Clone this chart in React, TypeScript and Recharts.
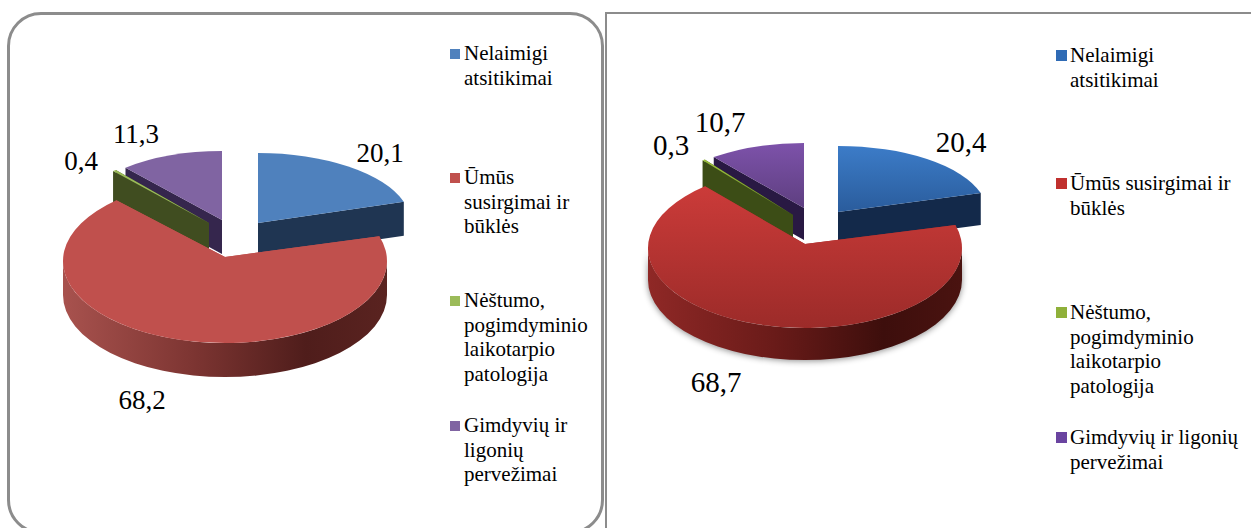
import React from "react"
import { Legend, Pie, PieChart } from "recharts"

const categories = [
  "Nelaimigi atsitikimai",
  "Ūmūs susirgimai ir būklės",
  "Nėštumo, pogimdyminio laikotarpio patologija",
  "Gimdyvių ir ligonių pervežimai",
]
const leftValues = [20.1, 68.2, 0.4, 11.3]
const rightValues = [20.4, 68.7, 0.3, 10.7]
const leftLegendLines = [
  ["Nelaimigi", "atsitikimai"],
  ["Ūmūs", "susirgimai ir", "būklės"],
  ["Nėštumo,", "pogimdyminio", "laikotarpio", "patologija"],
  ["Gimdyvių ir", "ligonių", "pervežimai"],
]
const rightLegendLines = [
  ["Nelaimigi", "atsitikimai"],
  ["Ūmūs susirgimai ir", "būklės"],
  ["Nėštumo,", "pogimdyminio", "laikotarpio", "patologija"],
  ["Gimdyvių ir ligonių", "pervežimai"],
]

const FONT = '"Liberation Serif", serif'
const DEG = Math.PI / 180
// back slices first, red last: it sits in front of the others
const drawOrder = [0, 3, 2, 1]

const leftPanel = {
  id: "l",
  left: 0,
  width: 604,
  values: leftValues,
  legendLines: leftLegendLines,
  cx: 225,
  cy: 261,
  radius: 162,
  depth: 34,
  // pull-out of each slice and its ellipse; ay lifts the apex for the perspective look
  slices: [
    { dx: 33, dy: -38, rx: 153, ry: 70, ay: 0 },
    { dx: 0, dy: 0, rx: 162, ry: 82, ay: -4 },
    { dx: -16, dy: -38, rx: 143, ry: 70, ay: 0 },
    { dx: -3, dy: -41, rx: 148, ry: 69, ay: 0 },
  ],
  tops: [
    ["#4f81bd", "#4f81bd"],
    ["#c0504d", "#c0504d"],
    ["#9bbb59", "#9bbb59"],
    ["#8064a2", "#8064a2"],
  ],
  walls: ["#1f3552", "#c0504d", "#404d20", "#35264d"],
  redWall: ["#a8524e", "#7d3532", "#4f1d1b", "#5a2320"],
  shadow: "none",
  labelPos: [
    [380, 153],
    [142, 400],
    [81, 161],
    [136, 134],
  ],
  labelSize: 27,
  swatchX: 450,
  swatchSize: 10,
  swatchDy: 8,
  textX: 464,
  legendTops: [41, 165, 288, 413],
  legendFill: ["#4f81bd", "#c0504d", "#9bbb59", "#8064a2"],
}

const rightPanel = {
  id: "r",
  left: 605,
  width: 646,
  values: rightValues,
  legendLines: rightLegendLines,
  cx: 200,
  cy: 248,
  radius: 157,
  depth: 32,
  slices: [
    { dx: 33, dy: -36, rx: 149, ry: 66, ay: 0 },
    { dx: 0, dy: 0, rx: 157, ry: 80, ay: -4 },
    { dx: -12, dy: -33, rx: 142, ry: 71, ay: 0 },
    { dx: -1, dy: -40, rx: 145, ry: 65, ay: 0 },
  ],
  tops: [
    ["#3c7cc8", "#2a5c9c"],
    ["#cb3b39", "#9c2b29"],
    ["#9dc23e", "#6f8c2a"],
    ["#7d52aa", "#5e3f80"],
  ],
  walls: ["#13294a", "#a02c2a", "#3c4d16", "#291943"],
  redWall: ["#8f2826", "#6a1b19", "#3d0e0c", "#4a1310"],
  shadow: "drop-shadow(0 1px 3px rgba(0,0,0,0.45))",
  labelPos: [
    [356, 142],
    [111, 382],
    [66, 145],
    [115, 122],
  ],
  labelSize: 29,
  swatchX: 451,
  swatchSize: 11,
  swatchDy: 7,
  textX: 465,
  legendTops: [43, 171, 300, 425],
  legendFill: ["#2f6bb5", "#c0302e", "#8fb03a", "#6a44a0"],
}

type Panel = typeof leftPanel

function SliceShape({ panel, sliceIndex, sector }: { panel: Panel; sliceIndex: number; sector: any }) {
  const name = sector.payload?.name ?? sector.name
  if (name !== categories[sliceIndex]) return <g />

  const { dx, dy, rx, ry, ay } = panel.slices[sliceIndex]
  const ox = sector.cx + dx
  const oy = sector.cy + dy
  const apexY = oy + ay
  const d = panel.depth
  const at = (deg: number): [number, number] => [
    ox + rx * Math.cos(deg * DEG),
    oy - ry * Math.sin(deg * DEG),
  ]
  const a1 = sector.startAngle
  const a2 = sector.endAngle
  const [sx, sy] = at(a1)
  const [ex, ey] = at(a2)
  const large = Math.abs(a1 - a2) > 180 ? 1 : 0

  const top = `M${ox},${apexY}L${sx},${sy}A${rx},${ry} 0 ${large} 1 ${ex},${ey}Z`
  const edgeWall = (x: number, y: number) =>
    `M${ox},${apexY}L${x},${y}L${x},${y + d}L${ox},${apexY + d}Z`

  // the rim only shows on the front half of the ellipse
  const rimFrom = Math.min(a1, 0)
  const rimTo = Math.max(a2, -180)
  let rim = ""
  if (rimFrom > rimTo) {
    const [p1x, p1y] = at(rimFrom)
    const [p2x, p2y] = at(rimTo)
    rim = `M${p1x},${p1y}A${rx},${ry} 0 0 1 ${p2x},${p2y}L${p2x},${p2y + d}A${rx},${ry} 0 0 0 ${p1x},${p1y + d}Z`
  }

  const wall = panel.walls[sliceIndex]
  return (
    <g>
      <path d={edgeWall(sx, sy)} fill={wall} />
      <path d={edgeWall(ex, ey)} fill={wall} />
      {rim && (
        <path
          d={rim}
          fill={`url(#${panel.id}-rim)`}
          style={{ filter: panel.shadow }}
        />
      )}
      <path d={top} fill={`url(#${panel.id}-top-${sliceIndex})`} />
    </g>
  )
}

function renderLabel(panel: Panel) {
  return (props: any) => {
    const i = categories.indexOf(props.payload?.name ?? props.name)
    const [x, y] = panel.labelPos[i]
    const text = String(panel.values[i]).replace(".", ",")
    return (
      <text
        key={i}
        x={x}
        y={y}
        textAnchor="middle"
        dominantBaseline="central"
        fontFamily={FONT}
        fontSize={panel.labelSize}
        fill="#000"
      >
        {text}
      </text>
    )
  }
}

function renderLegend(panel: Panel) {
  return () => (
    <div style={{ position: "relative", width: panel.width, height: 528 }}>
      {panel.legendLines.map((lines, i) => (
        <div key={i}>
          <div
            style={{
              position: "absolute",
              left: panel.swatchX,
              top: panel.legendTops[i] + panel.swatchDy,
              width: panel.swatchSize,
              height: panel.swatchSize,
              background: panel.legendFill[i],
            }}
          />
          <div
            style={{
              position: "absolute",
              left: panel.textX,
              top: panel.legendTops[i],
              fontFamily: FONT,
              fontSize: 21,
              lineHeight: "24.5px",
              whiteSpace: "nowrap",
              color: "#000",
            }}
          >
            {lines.map((line) => (
              <div key={line}>{line}</div>
            ))}
          </div>
        </div>
      ))}
    </div>
  )
}

function PanelChart({ panel }: { panel: Panel }) {
  const data = categories.map((name, i) => ({
    name,
    value: panel.values[i],
    fill: panel.legendFill[i],
  }))
  return (
    <div style={{ position: "absolute", left: panel.left, top: 0 }}>
      <PieChart width={panel.width} height={528} margin={{ top: 0, right: 0, bottom: 0, left: 0 }}>
        <defs>
          <linearGradient id={`${panel.id}-rim`} x1="0" y1="0" x2="1" y2="0">
            <stop offset="0" stopColor={panel.redWall[0]} />
            <stop offset="0.4" stopColor={panel.redWall[1]} />
            <stop offset="0.75" stopColor={panel.redWall[2]} />
            <stop offset="1" stopColor={panel.redWall[3]} />
          </linearGradient>
          {panel.tops.map(([from, to], i) => (
            <linearGradient key={i} id={`${panel.id}-top-${i}`} x1="0" y1="0" x2="0" y2="1">
              <stop offset="0" stopColor={from} />
              <stop offset="1" stopColor={to} />
            </linearGradient>
          ))}
        </defs>
        {drawOrder.map((sliceIndex, layer) => (
          <Pie
            key={sliceIndex}
            data={data}
            dataKey="value"
            nameKey="name"
            cx={panel.cx}
            cy={panel.cy}
            outerRadius={panel.radius}
            startAngle={90}
            endAngle={-270}
            stroke="none"
            isAnimationActive={false}
            legendType={layer === 0 ? "square" : "none"}
            labelLine={false}
            label={layer === drawOrder.length - 1 ? renderLabel(panel) : false}
            shape={(sector: any) => (
              <SliceShape panel={panel} sliceIndex={sliceIndex} sector={sector} />
            )}
          />
        ))}
        <Legend
          content={renderLegend(panel)}
          wrapperStyle={{ position: "absolute", left: 0, top: 0, width: panel.width, height: 528 }}
        />
      </PieChart>
    </div>
  )
}

export default function App() {
  return (
    <div
      style={{
        position: "absolute",
        left: 0,
        top: 0,
        width: 1251,
        height: 528,
        overflow: "hidden",
        background: "#fff",
      }}
    >
      <div
        style={{
          position: "absolute",
          left: 7,
          top: 12,
          width: 591,
          height: 516,
          border: "3px solid #8c8c8c",
          borderRadius: 34,
        }}
      />
      <div
        style={{
          position: "absolute",
          left: 605,
          top: 12,
          width: 660,
          height: 530,
          border: "2px solid #8c8c8c",
        }}
      />
      <PanelChart panel={leftPanel} />
      <PanelChart panel={rightPanel} />
    </div>
  )
}
